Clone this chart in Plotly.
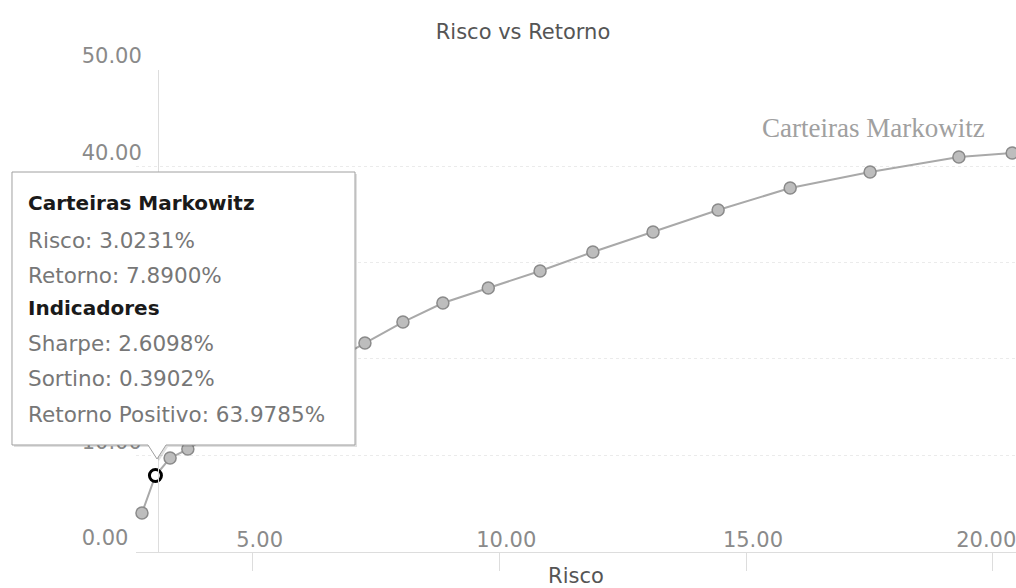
import plotly.graph_objects as go

# Efficient frontier portfolios (risk %, return %)
risco = [2.75, 3.0231, 3.32, 3.68, 4.35, 5.00, 5.75, 6.50, 7.27, 8.04, 8.85,
         9.77, 10.82, 11.89, 13.11, 14.43, 15.89, 17.51, 19.31, 20.39]
retorno = [4.00, 7.89, 9.71, 10.64, 12.8, 14.9, 17.1, 19.4, 21.65, 23.83, 25.80,
           27.36, 29.13, 31.10, 33.18, 35.46, 37.75, 39.41, 40.97, 41.38]

# Selected portfolio and its indicators
sel = 1
sharpe = 2.6098
sortino = 0.3902
retorno_positivo = 63.9785

NB = "\u00a0"
x_ticks = [5, 10, 15, 20]
y_ticks = [0, 10, 20, 30, 40, 50]
x_ticktext = [NB * 2 + "5.00", NB * 2 + "10.00", NB * 2 + "15.00", "20.00" + NB * 2]
y_ticktext = ["0.00" + NB * 2, "10.00", "20.00", "30.00", "40.00", "50.00"]

W, H = 1016, 588


def px(x):
    return x / W


def py(y):
    return 1 - y / H


FONT = "DejaVu Sans"

fig = go.Figure()

fig.add_trace(go.Scatter(
    x=risco, y=retorno, mode="lines+markers", name="Carteiras Markowitz",
    line=dict(color="#a9a9a9", width=2),
    marker=dict(size=12, color="#bdbdbd", line=dict(color="#8a8a8a", width=1.5)),
    cliponaxis=False, showlegend=False,
))

fig.add_trace(go.Scatter(
    x=[risco[sel]], y=[retorno[sel]], mode="markers",
    marker=dict(size=12, color="white", line=dict(color="black", width=3)),
    cliponaxis=False, showlegend=False,
))

# Tooltip box with a pointer notch at the bottom
box_l, box_r, box_t, box_b = 12, 355, 172, 445
notch_l, notch_tip_x, notch_tip_y, notch_r = 148, 157, 459, 166


def tooltip_path(dx=0, dy=0):
    pts = [(box_l, box_t), (box_r, box_t), (box_r, box_b), (notch_r, box_b),
           (notch_tip_x, notch_tip_y), (notch_l, box_b), (box_l, box_b)]
    s = "M " + " L ".join(f"{px(a + dx):.5f},{py(b + dy):.5f}" for a, b in pts) + " Z"
    return s


fig.add_shape(type="path", path=tooltip_path(2, 2), xref="paper", yref="paper",
              fillcolor="rgba(0,0,0,0.12)", line=dict(width=0), layer="above")
fig.add_shape(type="path", path=tooltip_path(), xref="paper", yref="paper",
              fillcolor="white", line=dict(color="#a0a0a0", width=1), layer="above")

tip_lines = [
    ("<b>Carteiras Markowitz</b>", "#1a1a1a", 203, 20),
    (f"Risco: {risco[sel]:.4f}%", "#777777", 240, 21.5),
    (f"Retorno: {retorno[sel]:.4f}%", "#777777", 275, 21.5),
    ("<b>Indicadores</b>", "#1a1a1a", 308, 20),
    (f"Sharpe: {sharpe:.4f}%", "#777777", 343, 21.5),
    (f"Sortino: {sortino:.4f}%", "#777777", 378, 21.5),
    (f"Retorno Positivo: {retorno_positivo:.4f}%", "#777777", 415, 21.5),
]
for text, color, ypix, size in tip_lines:
    fig.add_annotation(x=px(26), y=py(ypix), xref="paper", yref="paper",
                       text=text, showarrow=False, xanchor="left", yanchor="middle",
                       font=dict(family=FONT, size=size, color=color))

# Series label next to the last portfolio
fig.add_annotation(x=px(873), y=py(128), xref="paper", yref="paper",
                   text="Carteiras Markowitz", showarrow=False,
                   xanchor="center", yanchor="middle",
                   font=dict(family="Liberation Serif", size=27, color="#a0a0a0"))

fig.update_layout(
    width=W, height=H, autosize=False,
    margin=dict(l=0, r=0, t=0, b=0),
    paper_bgcolor="white", plot_bgcolor="white",
    title=dict(text="Risco vs Retorno", x=px(523), xanchor="center",
               y=py(32), yanchor="middle",
               font=dict(family=FONT, size=21, color="#555555")),
    xaxis=dict(
        domain=[px(136), 1], range=[2.629, 20.468], automargin=False,
        tickvals=x_ticks, ticktext=x_ticktext,
        ticklabelposition="outside", ticklabelstandoff=-49,
        ticklabeloverflow="allow",
        ticks="outside", ticklen=18,
        tickcolor="#dddddd", showline=True, linecolor="#dddddd",
        showgrid=False, zeroline=False,
        tickfont=dict(family=FONT, size=21, color="#8a8a8a"),
        title=dict(text="Risco", standoff=25,
                   font=dict(family=FONT, size=21, color="#555555")),
    ),
    yaxis=dict(
        domain=[py(551.5), py(70)], range=[0, 50], automargin=False,
        anchor="free", position=px(158),
        tickvals=y_ticks, ticktext=y_ticktext,
        ticks="", ticklabelshift=-14, ticklabelstandoff=12,
        showline=True, linecolor="#dddddd",
        showgrid=True, gridcolor="#ebebeb", griddash="dot", zeroline=False,
        tickfont=dict(family=FONT, size=21, color="#8a8a8a"),
    ),
    hovermode=False,
)

fig.write_html("out.html")
